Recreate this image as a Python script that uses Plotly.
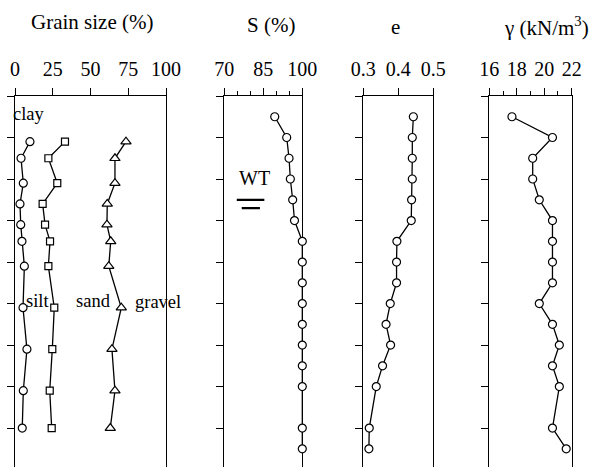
import plotly.graph_objects as go

# ---- data ----
grain_depth = [1.1, 1.5, 2.1, 2.6, 3.1, 3.5, 4.1, 5.1, 6.1, 7.1, 8.0]
clay = [9.9, 4.0, 5.5, 3.3, 3.8, 4.6, 6.2, 5.3, 7.9, 5.5, 4.8]
clay_silt = [33.1, 22.1, 28.0, 18.3, 19.9, 23.2, 22.1, 26.0, 24.7, 23.0, 24.3]
clay_silt_sand = [73.5, 66.2, 66.2, 61.1, 60.9, 63.4, 62.1, 70.4, 64.2, 66.2, 63.1]

depth = [0.5, 1, 1.5, 2, 2.5, 3, 3.5, 4, 4.5, 5, 5.5, 6, 6.5, 7, 8, 8.5]
saturation = [89.4, 94.0, 94.9, 95.4, 96.3, 97.0, 100, 100, 100, 100, 100, 100, 100, 100, 100, 100]
void_ratio = [0.443, 0.440, 0.440, 0.440, 0.438, 0.437, 0.396, 0.395, 0.395,
              0.377, 0.365, 0.378, 0.355, 0.337, 0.317, 0.316]
unit_weight = [17.65, 20.6, 19.16, 19.16, 19.64, 20.6, 20.6, 20.6, 20.6,
               19.64, 20.6, 21.1, 20.6, 21.1, 20.6, 21.6]

W, H = 591, 467
TOP = 96
FONT = "Liberation Serif, Times New Roman, serif"

fig = go.Figure()

mk = dict(color="white", size=8, line=dict(color="black", width=1.2))
ln = dict(color="black", width=1.3)

def add(x, y, axis, symbol="circle", size=8):
    fig.add_trace(go.Scatter(
        x=x, y=y, mode="lines+markers", xaxis="x" + axis, yaxis="y" + axis,
        line=ln, marker=dict(mk, symbol=symbol, size=size), cliponaxis=False,
        showlegend=False, hoverinfo="skip"))

add(clay, grain_depth, "", "circle")
add(clay_silt, grain_depth, "", "square", 7)
add(clay_silt_sand, grain_depth, "", "triangle-up", 9)
add(saturation, depth, "2")
add(void_ratio, depth, "3")
add(unit_weight, depth, "4")

domains = [(15, 166), (224.3, 302.3), (363.3, 433.3), (489.3, 571.7)]
x_ranges = [(0, 100), (70, 100), (0.3, 0.5), (16, 22)]
minor_style = dict(ticklen=4, tickcolor="black", tickwidth=1.2, ticks="outside")
x_ticks = [
    dict(tickvals=[0, 25, 50, 75, 100], minor=None),
    dict(tickvals=[70, 85, 100], minor=dict(minor_style, tickvals=[75, 80, 90, 95])),
    dict(tickvals=[0.3, 0.4, 0.5], minor=None),
    dict(tickvals=[16, 18, 20, 22], minor=dict(minor_style, tickvals=[17, 19, 21])),
]
tick_text = [["0", "25", "50", "75", "100"], ["70", "85", "100"],
             ["0.3", "0.4", "0.5"], ["16", "18", "20", "22"]]

depth_bottom = (H - TOP) / 41.51

for i, ((a, b), rng, tk, tt) in enumerate(zip(domains, x_ranges, x_ticks, tick_text)):
    sfx = "" if i == 0 else str(i + 1)
    xa = dict(
        domain=[a / W, b / W], range=list(rng), side="top", anchor="y" + sfx,
        showline=True, linecolor="black", linewidth=1.2, showgrid=False, zeroline=False,
        ticks="outside", ticklen=7, tickwidth=1.2, tickcolor="black",
        tickmode="array", tickvals=tk["tickvals"], ticktext=tt,
        tickfont=dict(family=FONT, size=20, color="black"),
        ticklabelstandoff=4, layer="below traces", fixedrange=True, automargin=False,
    )
    if tk["minor"]:
        xa["minor"] = tk["minor"]
    ya = dict(
        domain=[0, 1], range=[depth_bottom, 0], anchor="x" + sfx,
        showline=True, mirror=True, linecolor="black", linewidth=1.2,
        showgrid=False, zeroline=False, ticks="outside", ticklen=7, tickwidth=1.2,
        tickcolor="black", tickmode="linear", tick0=0, dtick=1, showticklabels=False,
        layer="below traces", fixedrange=True, automargin=False,
    )
    fig.layout["xaxis" + sfx] = xa
    fig.layout["yaxis" + sfx] = ya

def py(ypix):
    return (H - ypix) / (H - TOP)

titles = [("Grain size (%)", 92, 22), ("S (%)", 271, 25), ("e", 395, 27),
          ("γ (kN/m<sup>3</sup>)", 546, 27)]
ann = []
for txt, xp, yp in titles:
    ann.append(dict(text=txt, x=xp / W, y=py(yp), xref="paper", yref="paper",
                    xanchor="center", yanchor="middle", showarrow=False,
                    font=dict(family=FONT, size=21, color="black")))

labels = [("clay", 9.3, 0.43), ("silt", 14.9, 4.93),
          ("sand", 52.3, 4.93), ("gravel", 94.4, 4.96)]
for txt, xv, yv in labels:
    ann.append(dict(text=txt, x=xv, y=yv, xref="x", yref="y", xanchor="center",
                    yanchor="middle", showarrow=False,
                    font=dict(family=FONT, size=18.5, color="black")))
ann.append(dict(text="WT", x=81.8, y=1.97, xref="x2", yref="y2", xanchor="center",
                yanchor="middle", showarrow=False,
                font=dict(family=FONT, size=20, color="black")))

# water table symbol
shapes = [
    dict(type="line", xref="x2", yref="y2", x0=74.8, x1=85.4, y0=2.50, y1=2.50,
         line=dict(color="black", width=2.2)),
    dict(type="line", xref="x2", yref="y2", x0=76.7, x1=83.7, y0=2.70, y1=2.70,
         line=dict(color="black", width=2.2)),
]

fig.update_layout(
    template="none",
    width=W, height=H, margin=dict(l=0, r=0, t=TOP, b=0, pad=0, autoexpand=False),
    paper_bgcolor="white", plot_bgcolor="white",
    annotations=ann, shapes=shapes,
    font=dict(family=FONT, color="black"),
)

fig.write_html("out.html")
